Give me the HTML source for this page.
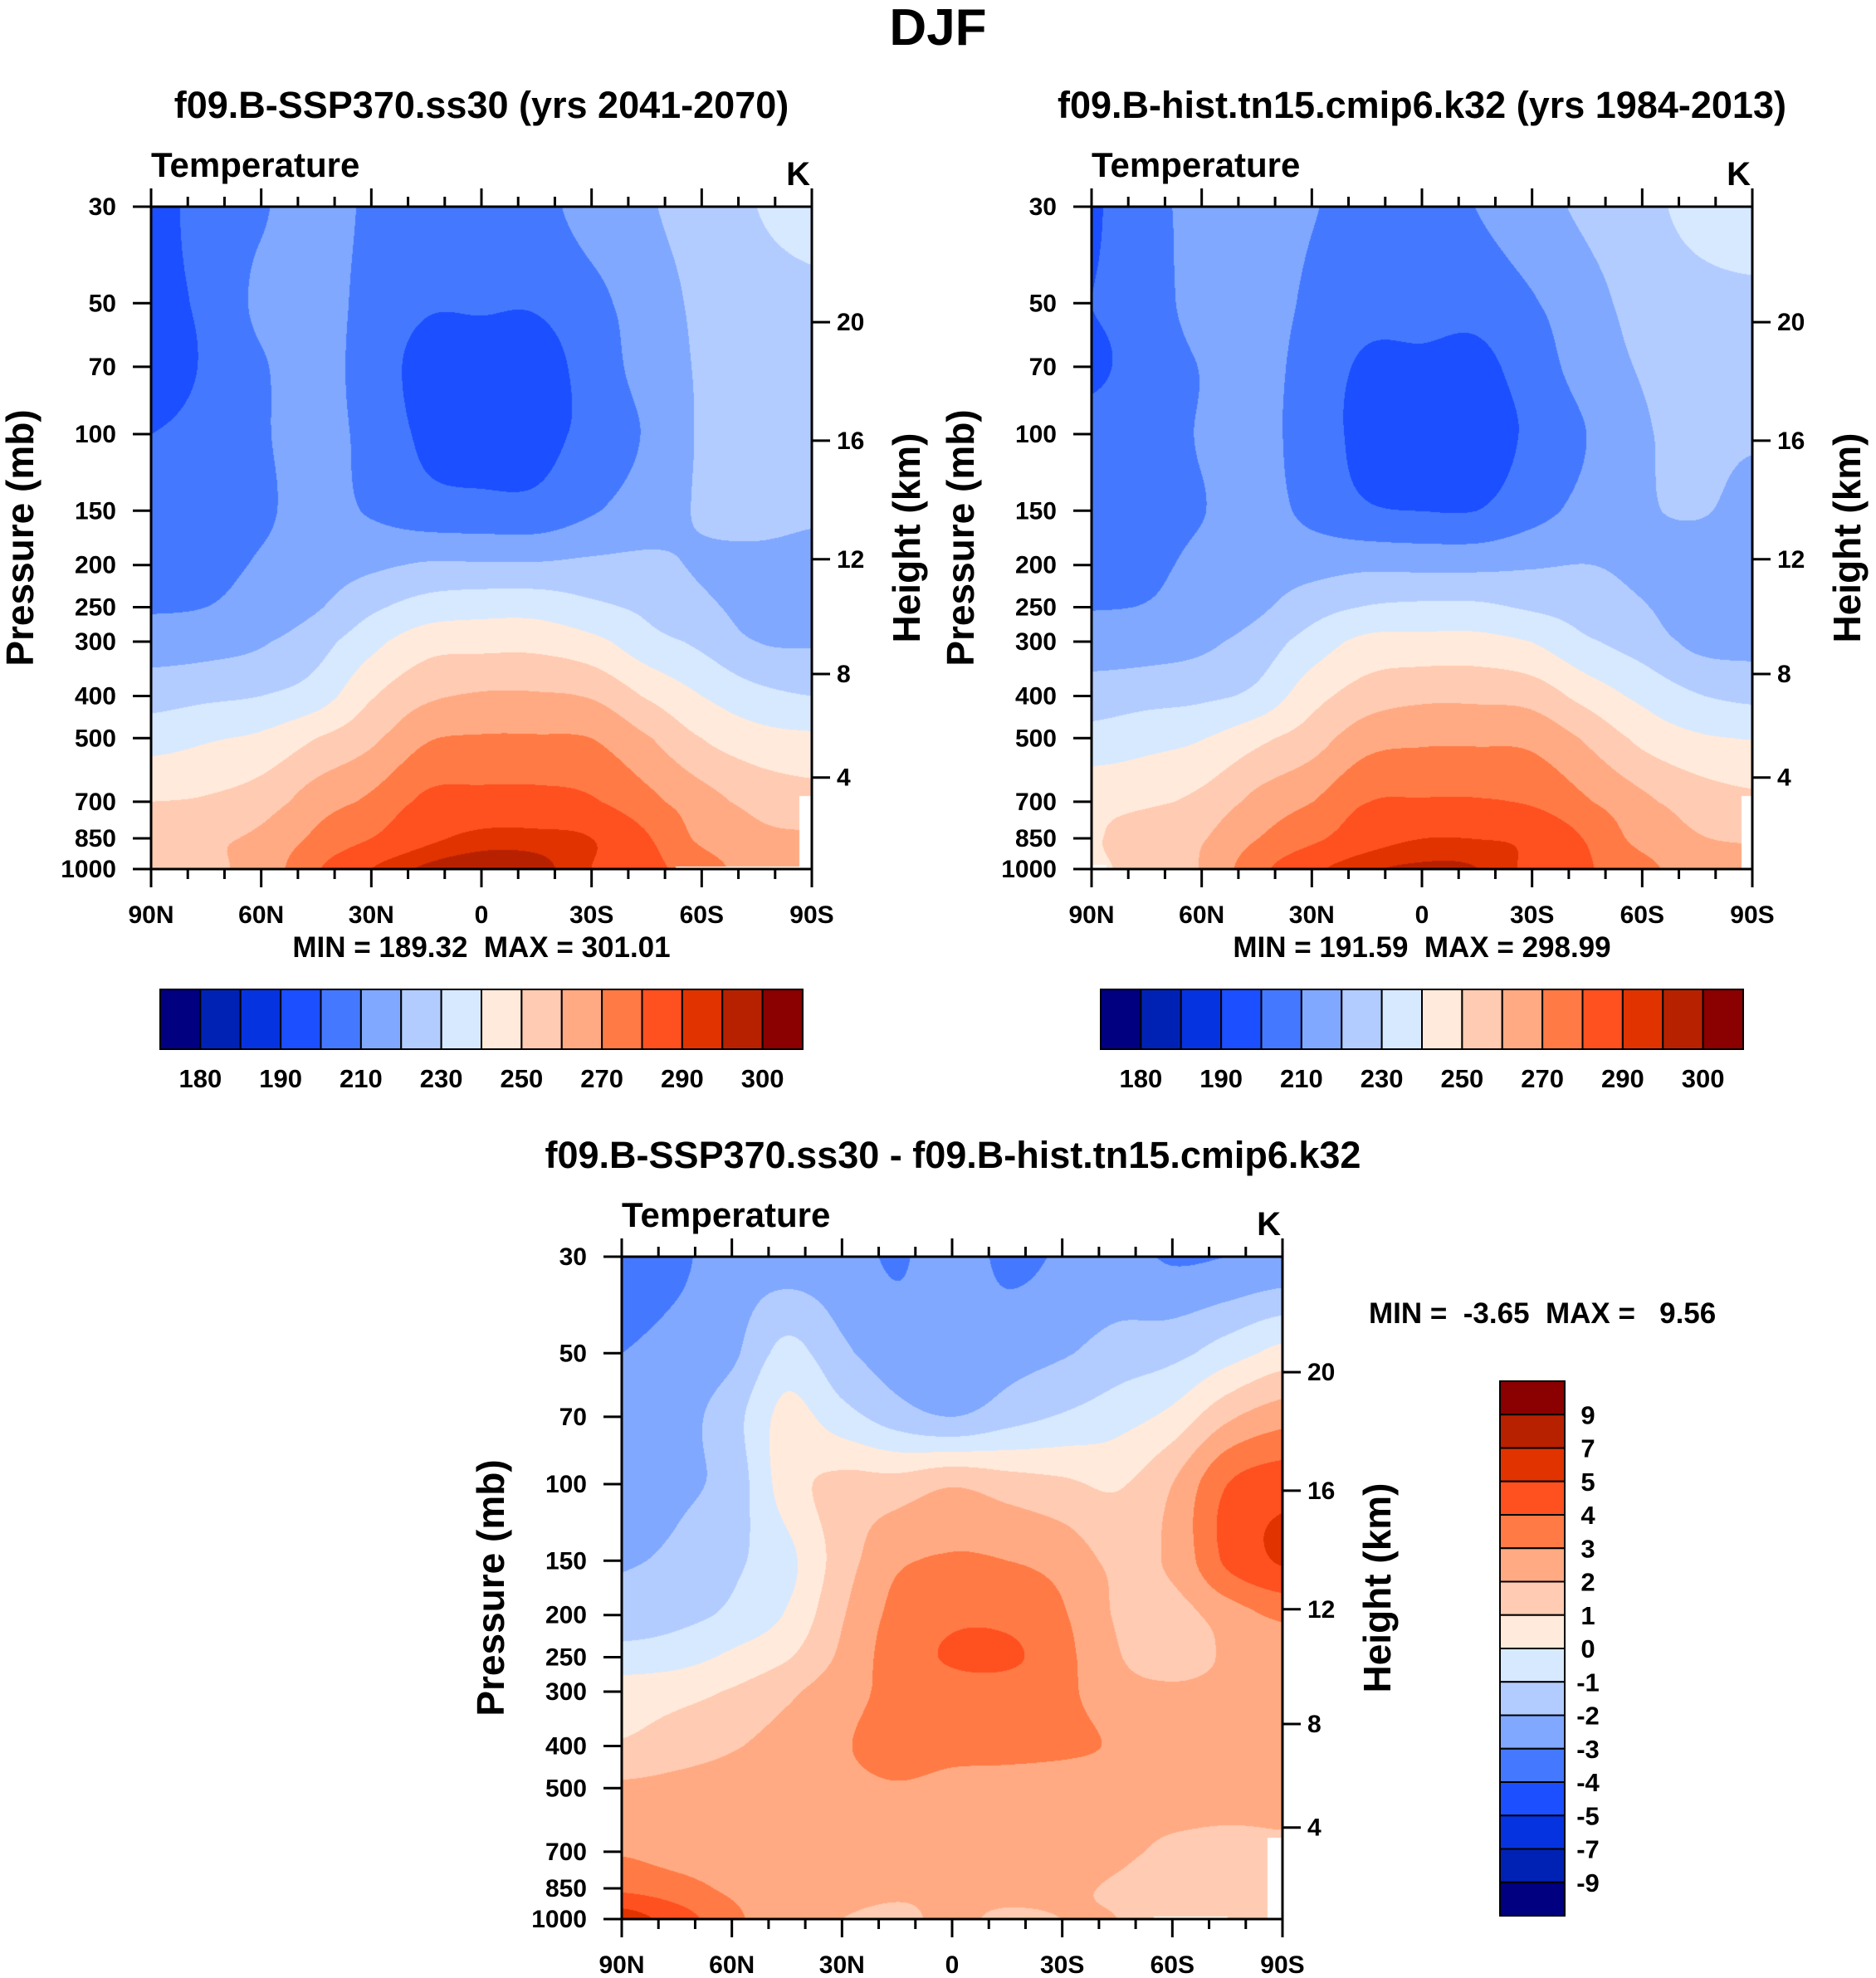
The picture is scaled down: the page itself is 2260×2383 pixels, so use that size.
<!DOCTYPE html>
<html><head><meta charset="utf-8">
<style>
html,body{margin:0;padding:0;background:#fff;}
#root{position:relative;width:2260px;height:2383px;overflow:hidden;}
canvas{position:absolute;}
svg{position:absolute;left:0;top:0;}
text{font-family:"Liberation Sans",sans-serif;font-weight:bold;fill:#000;white-space:pre;}
</style></head>
<body>
<div id="root">
<canvas id="c1"></canvas>
<canvas id="c2"></canvas>
<canvas id="c3"></canvas>
<svg id="s" width="2260" height="2383"></svg>
</div>
<script>
// ---- data ----
const LATS = [90,75,60,45,30,15,0,-15,-30,-45,-60,-75,-90];
const PLEVS = [30,50,70,100,150,200,250,300,400,500,700,850,1000];
const LEVELS_T = [180,185,190,200,210,220,230,240,250,260,270,280,290,295,300];
const LEVELS_D = [-9,-7,-5,-4,-3,-2,-1,0,1,2,3,4,5,7,9];
const TLABELS = ["180","190","210","230","250","270","290","300"];
const DLABELS = ["9","7","5","4","3","2","1","0","-1","-2","-3","-4","-5","-7","-9"];
const XLABELS = ["90N","60N","30N","0","30S","60S","90S"];
const PTICKS = [30,50,70,100,150,200,250,300,400,500,700,850,1000];
const ZTICKS = [4,8,12,16,20];
const ZTICK_P = [616,356,194,103.5,55.3];
const COLORS = ["#000080","#0022b4","#0633e0","#1c4fff","#4479ff","#80a8ff","#b3ccff","#d7e9ff",
                "#ffeadb","#ffcbb2","#ffaa82","#ff7a45","#ff5020","#e03300","#b82100","#8b0000"];
const ssp = [
 [195,205,209,215,208,205,205,207,214,219,224,230,233],
 [197,202,212,215,206,201,201,201,207,215,222,226,228],
 [196,201,209,214,205,197,196,196,204,214,221,224,226],
 [200,203,209,213,207,198,196,197,203,211,221,224,225],
 [203,205,208.5,213,209,204,203,203,209,215,221,224,222],
 [205,207,211,215,218,221,221,221,222,222,219,217,216],
 [209,210,214,219,228,234,236,236,232,228,222,217,216],
 [215,216,219,226,237,246,247,247,243,234,228,220,219],
 [226,228,230,235,249,258,261,261,259,249,240,233,230],
 [236,239,242,250,258,269,271,271,270,261,250,244,242],
 [250,251,255,265,272,282,283,283,281,273,264,257,254],
 [253,258,262,272,280,288,292,292,290,281,268,262,261],
 [254,258,264,279,290,296,298,297,290,283,275,265,262]
];
const hist = [
 [198.5,208.2,211.5,217.5,210.6,208.1,207.5,210.2,216.9,221.7,227.1,233,235.8],
 [200,204.7,214.2,215.7,207.8,203.5,203.6,203.4,209.1,216.6,223.3,226.5,227.7],
 [198.7,203.4,210.4,213.7,205.6,198.5,198,197.4,204.9,214.4,220.7,222.2,223.4],
 [202.6,205.2,210.6,212.5,205.7,196.6,194.1,195.5,201.8,210.1,219,221.5,221],
 [205.1,206.8,209.7,213.3,207.5,201.2,199.9,200,206.4,213.2,218.8,220.8,216.9],
 [206.6,208.3,211.8,214.9,216.1,217.7,217.2,217.3,218.9,220.1,217.4,214.5,212.8],
 [209.6,210.4,213.8,218.1,225.8,230.5,231.9,231.8,228.7,225.9,220.8,214.8,213.5],
 [214.5,215.3,217.9,224.2,234.4,242.7,243.4,243.5,239.8,231.5,225.7,217.6,216.6],
 [224.9,226.5,228.1,232.6,246.1,254.6,257.7,257.7,255.8,246.1,237.5,230.6,227.6],
 [233.8,236.7,239.6,247.5,255.3,266.1,268.3,268.4,267.5,258.5,247.5,241.6,239.6],
 [247.1,248.4,252.6,262.7,269.7,279.7,280.7,280.7,278.7,270.8,262.2,255.3,252.2],
 [249.2,254.6,259.2,269.7,277.8,285.9,289.9,289.8,287.9,279.1,266.6,260.6,259.4],
 [248.5,253.5,260.7,276.8,288,294.1,295.9,295.1,288,281,273.5,263.4,260.3]
];
const diff = [
 [-3.5,-3.2,-2.5,-2.5,-2.6,-3.1,-2.5,-3.2,-2.9,-2.7,-3.1,-3.0,-2.8],
 [-3,-2.7,-2.2,-0.7,-1.8,-2.5,-2.6,-2.4,-2.1,-1.6,-1.3,-0.5,0.3],
 [-2.7,-2.4,-1.4,0.3,-0.6,-1.5,-2,-1.4,-0.9,-0.4,0.3,1.8,2.6],
 [-2.6,-2.2,-1.6,0.5,1.3,1.4,1.9,1.5,1.2,0.9,2.0,4.0,4.6],
 [-2.1,-1.8,-1.2,-0.3,1.5,2.8,3.1,3.0,2.6,1.8,2.2,4.2,5.1],
 [-1.6,-1.3,-0.8,0.1,1.9,3.3,3.8,3.7,3.1,1.9,1.6,2.5,3.2],
 [-0.6,-0.4,0.2,0.9,2.2,3.5,4.1,4.2,3.3,2.1,1.2,2.2,2.5],
 [0.5,0.7,1.1,1.8,2.6,3.3,3.6,3.5,3.2,2.5,2.3,2.4,2.4],
 [1.1,1.5,1.9,2.4,2.9,3.4,3.3,3.3,3.2,2.9,2.5,2.4,2.4],
 [2.2,2.3,2.4,2.5,2.7,2.9,2.7,2.6,2.5,2.5,2.5,2.4,2.4],
 [2.9,2.6,2.4,2.3,2.3,2.3,2.3,2.3,2.3,2.2,1.8,1.7,1.8],
 [3.8,3.4,2.8,2.3,2.2,2.1,2.1,2.2,2.1,1.9,1.4,1.4,1.6],
 [5.5,4.5,3.3,2.2,2.0,1.9,2.1,1.9,2.0,2.0,1.5,1.6,1.7]
];

// ---- helpers ----
const NS = "http://www.w3.org/2000/svg";
const svg = document.getElementById("s");
const PW = 796, PH = 798;
function mk(tag, attrs, name, inter) {
  const e = document.createElementNS(NS, tag);
  for (const k in attrs) e.setAttribute(k, attrs[k]);
  
  
  svg.appendChild(e);
  return e;
}
function txt(x, y, s, size, anchor, name, extra) {
  const a = {x: x, y: y, 'font-size': size, 'text-anchor': anchor || 'start'};
  if (extra) for (const k in extra) a[k] = extra[k];
  const e = mk('text', a, name, false);
  e.textContent = s;
  return e;
}
function hex(c) { return [parseInt(c.slice(1,3),16), parseInt(c.slice(3,5),16), parseInt(c.slice(5,7),16)]; }
const RGB = COLORS.map(hex);
const LNTOP = Math.log(30), LNSPAN = Math.log(1000/30);
const LNP = PLEVS.map(p => Math.log(p));
function pToY(p, y0) { return y0 + PH * (Math.log(p) - LNTOP) / LNSPAN; }
function latToX(lat, x0) { return x0 + PW * (90 - lat) / 180; }

function cr(p0, p1, p2, p3, t) {
  const t2 = t * t, t3 = t2 * t;
  return 0.5 * ((2 * p1) + (-p0 + p2) * t + (2 * p0 - 5 * p1 + 4 * p2 - p3) * t2 + (-p0 + 3 * p1 - 3 * p2 + p3) * t3);
}
function cl(v, n) { return Math.max(0, Math.min(n - 1, v)); }
function sample(grid, lat, lnp) {
  let fi = (90 - lat) / 15; if (fi < 0) fi = 0; if (fi > 12) fi = 12;
  let i = Math.min(11, Math.floor(fi)); const tx = fi - i;
  let j = 0; while (j < 11 && lnp > LNP[j+1]) j++;
  let ty = (lnp - LNP[j]) / (LNP[j+1] - LNP[j]); ty = Math.max(0, Math.min(1, ty));
  const rows = [];
  for (let dj = -1; dj <= 2; dj++) {
    const r = grid[cl(j + dj, 13)];
    rows.push(cr(r[cl(i - 1, 13)], r[i], r[cl(i + 1, 13)], r[cl(i + 2, 13)], tx));
  }
  return cr(rows[0], rows[1], rows[2], rows[3], ty);
}
function levelIndex(v, levels) { let k = 0; while (k < levels.length && v >= levels[k]) k++; return k; }

function drawField(id, grid, levels, x0, y0, mask) {
  const c = document.getElementById(id);
  c.width = PW; c.height = PH; c.style.left = x0 + 'px'; c.style.top = y0 + 'px';
  const ctx = c.getContext('2d');
  const img = ctx.createImageData(PW, PH);
  for (let py = 0; py < PH; py++) {
    const lnp = LNTOP + LNSPAN * (py + 0.5) / PH;
    const p = Math.exp(lnp);
    for (let px = 0; px < PW; px++) {
      const lat = 90 - 180 * (px + 0.5) / PW;
      const o = (py * PW + px) * 4;
      let col;
      if (mask && mask(lat, p)) col = [255,255,255];
      else col = RGB[levelIndex(sample(grid, lat, lnp), levels)];
      img.data[o] = col[0]; img.data[o+1] = col[1]; img.data[o+2] = col[2]; img.data[o+3] = 255;
    }
  }
  ctx.putImageData(img, 0, 0);
}

function axes(x0, y0, prefix) {
  const x1 = x0 + PW, y1 = y0 + PH;
  mk('rect', {x: x0, y: y0, width: PW, height: PH, fill: 'none', stroke: '#000', 'stroke-width': 3}, prefix + '-plot-frame', false);
  for (let lat = 90; lat >= -90; lat -= 10) {
    const x = latToX(lat, x0);
    const major = (lat % 30 === 0);
    const L = major ? 22 : 12;
    mk('line', {x1: x, y1: y1, x2: x, y2: y1 + L, stroke: '#000', 'stroke-width': 3}, prefix + '-x-tick', false);
    mk('line', {x1: x, y1: y0, x2: x, y2: y0 - L, stroke: '#000', 'stroke-width': 3}, prefix + '-top-tick', false);
  }
  XLABELS.forEach((s, k) => {
    txt(latToX(90 - 30 * k, x0), y1 + 65, s, 30, 'middle', prefix + '-x-tick-label');
  });
  PTICKS.forEach(p => {
    const y = pToY(p, y0);
    mk('line', {x1: x0 - 22, y1: y, x2: x0, y2: y, stroke: '#000', 'stroke-width': 3}, prefix + '-y-tick', false);
    txt(x0 - 42, y + 10, String(p), 30, 'end', prefix + '-y-tick-label');
  });
  ZTICKS.forEach((z, k) => {
    const y = pToY(ZTICK_P[k], y0);
    mk('line', {x1: x1, y1: y, x2: x1 + 22, y2: y, stroke: '#000', 'stroke-width': 3}, prefix + '-height-tick', false);
    txt(x1 + 30, y + 10, String(z), 30, 'start', prefix + '-height-tick-label');
  });
  txt(x0, y0 - 36, 'Temperature', 42, 'start', prefix + '-variable-label');
  txt(x1 - 2, y0 - 26, 'K', 40, 'end', prefix + '-units-label');
  const cy = y0 + PH / 2;
  txt(0, 0, 'Pressure (mb)', 46, 'middle', prefix + '-y-axis-title', {transform: 'translate(' + (x0 - 142) + ',' + cy + ') rotate(-90)'});
  txt(0, 0, 'Height (km)', 46, 'middle', prefix + '-height-axis-title', {transform: 'translate(' + (x1 + 130) + ',' + cy + ') rotate(-90)'});
}

function hbar(x0, y0, w, h, prefix) {
  const n = COLORS.length, bw = w / n;
  COLORS.forEach((c, k) => {
    mk('rect', {x: x0 + k * bw, y: y0, width: bw, height: h, fill: c, stroke: '#000', 'stroke-width': 2}, prefix + '-colorbar-box', false);
  });
  TLABELS.forEach((s, k) => {
    txt(x0 + (2 * k + 1) * bw, y0 + h + 46, s, 31, 'middle', prefix + '-colorbar-label');
  });
}
function vbar(x0, y0, w, h) {
  const n = COLORS.length, bh = h / n;
  COLORS.forEach((c, k) => {
    mk('rect', {x: x0, y: y0 + k * bh, width: w, height: bh, fill: COLORS[n - 1 - k], stroke: '#000', 'stroke-width': 2}, 'diff-colorbar-box', false);
  });
  DLABELS.forEach((s, k) => {
    txt(x0 + w + 28, y0 + (k + 1) * bh + 11, s, 31, 'middle', 'diff-colorbar-label');
  });
}

// ---- layout ----
const P1 = [182, 249], P2 = [1315, 249], P3 = [749, 1514];
drawField('c1', ssp, LEVELS_T, P1[0], P1[1], (lat, p) => (lat < -86.5 && p > 680) || (lat < -53 && lat > -88 && p > 985));
drawField('c2', hist, LEVELS_T, P2[0], P2[1], (lat, p) => (lat < -87 && p > 680) || (lat > 86 && p > 980));
drawField('c3', diff, LEVELS_D, P3[0], P3[1], (lat, p) => (lat < -86 && p > 650) || (lat < -55 && lat > -75 && p > 985));

txt(1130, 54, 'DJF', 62, 'middle', 'figure-title');
txt(580, 142, 'f09.B-SSP370.ss30 (yrs 2041-2070)', 45, 'middle', 'panel1-title');
txt(1713, 142, 'f09.B-hist.tn15.cmip6.k32 (yrs 1984-2013)', 45, 'middle', 'panel2-title');
txt(1148, 1407, 'f09.B-SSP370.ss30 - f09.B-hist.tn15.cmip6.k32', 45, 'middle', 'panel3-title');

axes(P1[0], P1[1], 'panel1');
axes(P2[0], P2[1], 'panel2');
axes(P3[0], P3[1], 'panel3');

txt(580, 1153, 'MIN = 189.32  MAX = 301.01', 35, 'middle', 'panel1-min-max');
txt(1713, 1153, 'MIN = 191.59  MAX = 298.99', 35, 'middle', 'panel2-min-max');
txt(1649, 1594, 'MIN =  -3.65  MAX =   9.56', 35, 'start', 'panel3-min-max');

hbar(193, 1192, 774, 72, 'panel1');
hbar(1326, 1192, 774, 72, 'panel2');
vbar(1807, 1664, 78, 644);
</script>
</body></html>
